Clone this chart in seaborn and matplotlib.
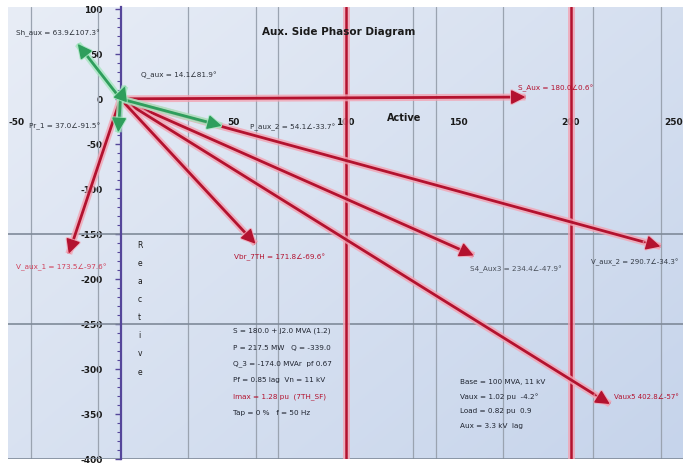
import numpy as np
import pandas as pd
import matplotlib
matplotlib.use("Agg")
import matplotlib.pyplot as plt
import matplotlib.patheffects as pe
from matplotlib.ticker import MultipleLocator
import seaborn as sns

# ---- phasor data: active (P) and reactive (Q) components ----
red_names = ["S_Aux", "V_aux_2", "S4_Aux3", "Vaux5", "Vbr_7TH", "V_aux_1"]
red_p = [180.0, 240.0, 157.0, 217.5, 60.0, -23.0]
red_q = [2.0, -164.0, -174.0, -339.0, -161.0, -172.0]

green_names = ["Sh_aux", "P_aux_2", "Pr_1", "Q_aux"]
green_p = [-19.0, 45.0, -1.0, 2.0]
green_q = [61.0, -30.0, -37.0, 14.0]

# limit lines on the active axis
limit_p = [100, 200]

# axis ticks
x_ticks = [-50, 50, 100, 150, 200, 250]
y_ticks = [100, 50, 0, -50, -100, -150, -200, -250, -300, -350, -400]
grid_x = [-40, -10, 30, 60, 70, 130, 140, 170, 210, 240]
grid_y = [-150, -250, -400]

summary_left = ["S = 180.0 + j2.0 MVA (1.2)", "P = 217.5 MW   Q = -339.0", "Q_3 = -174.0 MVAr  pf 0.67",
                "Pf = 0.85 lag  Vn = 11 kV", "Imax = 1.28 pu  (7TH_SF)", "Tap = 0 %   f = 50 Hz"]
summary_right = ["Base = 100 MVA, 11 kV", "Vaux = 1.02 pu  -4.2°", "Load = 0.82 pu  0.9",
                 "Aux = 3.3 kV  lag"]

# ---- figure ----
sns.set_theme(style="white")
plt.rcParams["font.family"] = ["DejaVu Sans"]

fig = plt.figure(figsize=(6.83, 4.64), dpi=100)
ax = fig.add_axes([8 / 683, 4 / 464, 675 / 683, 452 / 464])
ax.set_xlim(-50, 250)
ax.set_ylim(-400, 102)

# soft blue background
gx = np.linspace(0, 1, 200)
gy = np.linspace(0, 1, 200)
GX, GY = np.meshgrid(gx, gy)
c0 = np.array([232, 237, 246]) / 255
c1 = np.array([198, 212, 235]) / 255
t = np.clip(0.55 * GX + 0.45 * GY, 0, 1)[..., None]
img = c0 * (1 - t) + c1 * t
ax.imshow(img, extent=(-50, 250, -400, 102), origin="upper", aspect="auto", zorder=0)

# grid
for gxv in grid_x:
    ax.axvline(gxv, color="#9aa3b0", lw=0.9, zorder=1)
for gyv in grid_y:
    ax.axhline(gyv, color="#7f8a99", lw=1.2, zorder=1)

red_core = "#b3122f"
red_glow = "#f3a3b3"
green_core = "#2e9e5c"
green_glow = "#a6e6c0"

glow_red = [pe.Stroke(linewidth=5.0, foreground=red_glow, alpha=0.8), pe.Normal()]
glow_green = [pe.Stroke(linewidth=5.0, foreground=green_glow, alpha=0.8), pe.Normal()]
head_glow_red = [pe.Stroke(linewidth=2.5, foreground=red_glow, alpha=0.8), pe.Normal()]
head_glow_green = [pe.Stroke(linewidth=2.5, foreground=green_glow, alpha=0.8), pe.Normal()]

for lp in limit_p:
    ln = ax.axvline(lp, color=red_core, lw=1.8, zorder=2)
    ln.set_path_effects(glow_red)

# vector shafts from the origin
rows = []
for n, p, q in zip(red_names, red_p, red_q):
    rows += [dict(vec=n, kind="red", P=0.0, Q=0.0), dict(vec=n, kind="red", P=p, Q=q)]
for n, p, q in zip(green_names, green_p, green_q):
    rows += [dict(vec=n, kind="green", P=0.0, Q=0.0), dict(vec=n, kind="green", P=p, Q=q)]
df = pd.DataFrame(rows)

n_before = len(ax.lines)
sns.lineplot(data=df, x="P", y="Q", units="vec", estimator=None, hue="kind",
             palette={"red": red_core, "green": green_core}, sort=False,
             legend=False, lw=2.0, ax=ax, zorder=4)
for ln in ax.lines[n_before:]:
    col = ln.get_color()
    ln.set_path_effects(glow_green if col == green_core else glow_red)
    ln.set_solid_capstyle("butt")
ax.set_xlabel("")
ax.set_ylabel("")


def head(p, q, color, glow):
    a = ax.annotate("", xy=(p, q), xytext=(p * 0.97, q * 0.97),
                    arrowprops=dict(arrowstyle="-|>,head_length=0.8,head_width=0.4",
                                    color=color, lw=1.0, mutation_scale=11,
                                    shrinkA=0, shrinkB=0), zorder=5)
    a.arrow_patch.set_path_effects(glow)


def label_text(name, p, q, compact=False):
    mag = np.hypot(p, q)
    ang = np.degrees(np.arctan2(q, p))
    if compact:
        return f"{name} {mag:.1f}∠{ang:.0f}°"
    return f"{name} = {mag:.1f}∠{ang:.1f}°"


red_offsets = [(30, 10, "center"), (-26, -15, "center"), (42, -13, "center"),
               (4, 8, "left"), (24, -12, "center"), (-8, -13, "center")]
red_label_cols = [red_core, "#333a45", "#4a505a", red_core, red_core, "#d0405a"]
red_label_sizes = [5.2, 5.0, 5.2, 5.0, 5.2, 5.2]
red_compact = [False, False, False, True, False, False]
for n, p, q, (dx, dy, ha), lc, fs, cp in zip(red_names, red_p, red_q, red_offsets,
                                             red_label_cols, red_label_sizes, red_compact):
    head(p, q, red_core, head_glow_red)
    ax.annotate(label_text(n, p, q, cp), xy=(p, q), xytext=(dx, dy), textcoords="offset pixels",
                ha=ha, va="center", fontsize=fs, color=lc, zorder=6)

green_offsets = [(-20, 12, "center"), (28, 0, "left"), (-18, 7, "right"), (16, 12, "left")]
for n, p, q, (dx, dy, ha) in zip(green_names, green_p, green_q, green_offsets):
    head(p, q, green_core, head_glow_green)
    ax.annotate(label_text(n, p, q), xy=(p, q), xytext=(dx, dy), textcoords="offset pixels",
                ha=ha, va="center", fontsize=5.2, color="#2b3038", zorder=6)

# axes crossing at the origin
for s in ["top", "right"]:
    ax.spines[s].set_visible(False)
ax.spines["left"].set_position(("data", 0))
ax.spines["left"].set_color("#55469a")
ax.spines["left"].set_linewidth(1.6)
ax.spines["left"].set_zorder(3)
ax.spines["bottom"].set_position(("data", 0))
ax.spines["bottom"].set_visible(False)

ax.set_xticks(x_ticks)
ax.set_xticklabels([str(v) for v in x_ticks])
ax.set_yticks(y_ticks)
ax.set_yticklabels([str(v) for v in y_ticks])
ax.yaxis.set_minor_locator(MultipleLocator(10))
ax.tick_params(axis="x", length=0, pad=13, labelsize=6.5, labelcolor="#1a1a1a")
ax.tick_params(axis="y", which="major", direction="out", length=4, width=1,
               color="#55469a", pad=9, labelsize=6.5, labelcolor="#1a1a1a", left=True)
ax.tick_params(axis="y", which="minor", direction="out", length=3, width=0.8,
               color="#55469a", left=True)
xl = ax.get_xticklabels()
xl[0].set_horizontalalignment("left")
xl[-1].set_horizontalalignment("right")
for lab in ax.get_xticklabels() + ax.get_yticklabels():
    lab.set_fontweight("semibold")

ax.text(97, 75, "Aux. Side Phasor Diagram", ha="center", va="center",
        fontsize=7.5, fontweight="semibold", color="#1a1a1a", zorder=6)
ax.text(126, -20, "Active", ha="center", va="center", fontsize=7,
        fontweight="semibold", color="#1a1a1a", zorder=6)
ax.text(8.5, -232, "\n".join("Reactive"), ha="center", va="center", fontsize=5.5,
        linespacing=2.3, color="#1a1a1a", zorder=6)

for i, line in enumerate(summary_left):
    ax.text(50, -257 - i * 18.2, line, ha="left", va="center", fontsize=5.2,
            color=red_core if i == 4 else "#1f2430", zorder=6)
for i, line in enumerate(summary_right):
    ax.text(151, -313 - i * 16.5, line, ha="left", va="center", fontsize=5.2,
            color="#1f2430", zorder=6)

fig.savefig("out.png", dpi=100, facecolor="white")
